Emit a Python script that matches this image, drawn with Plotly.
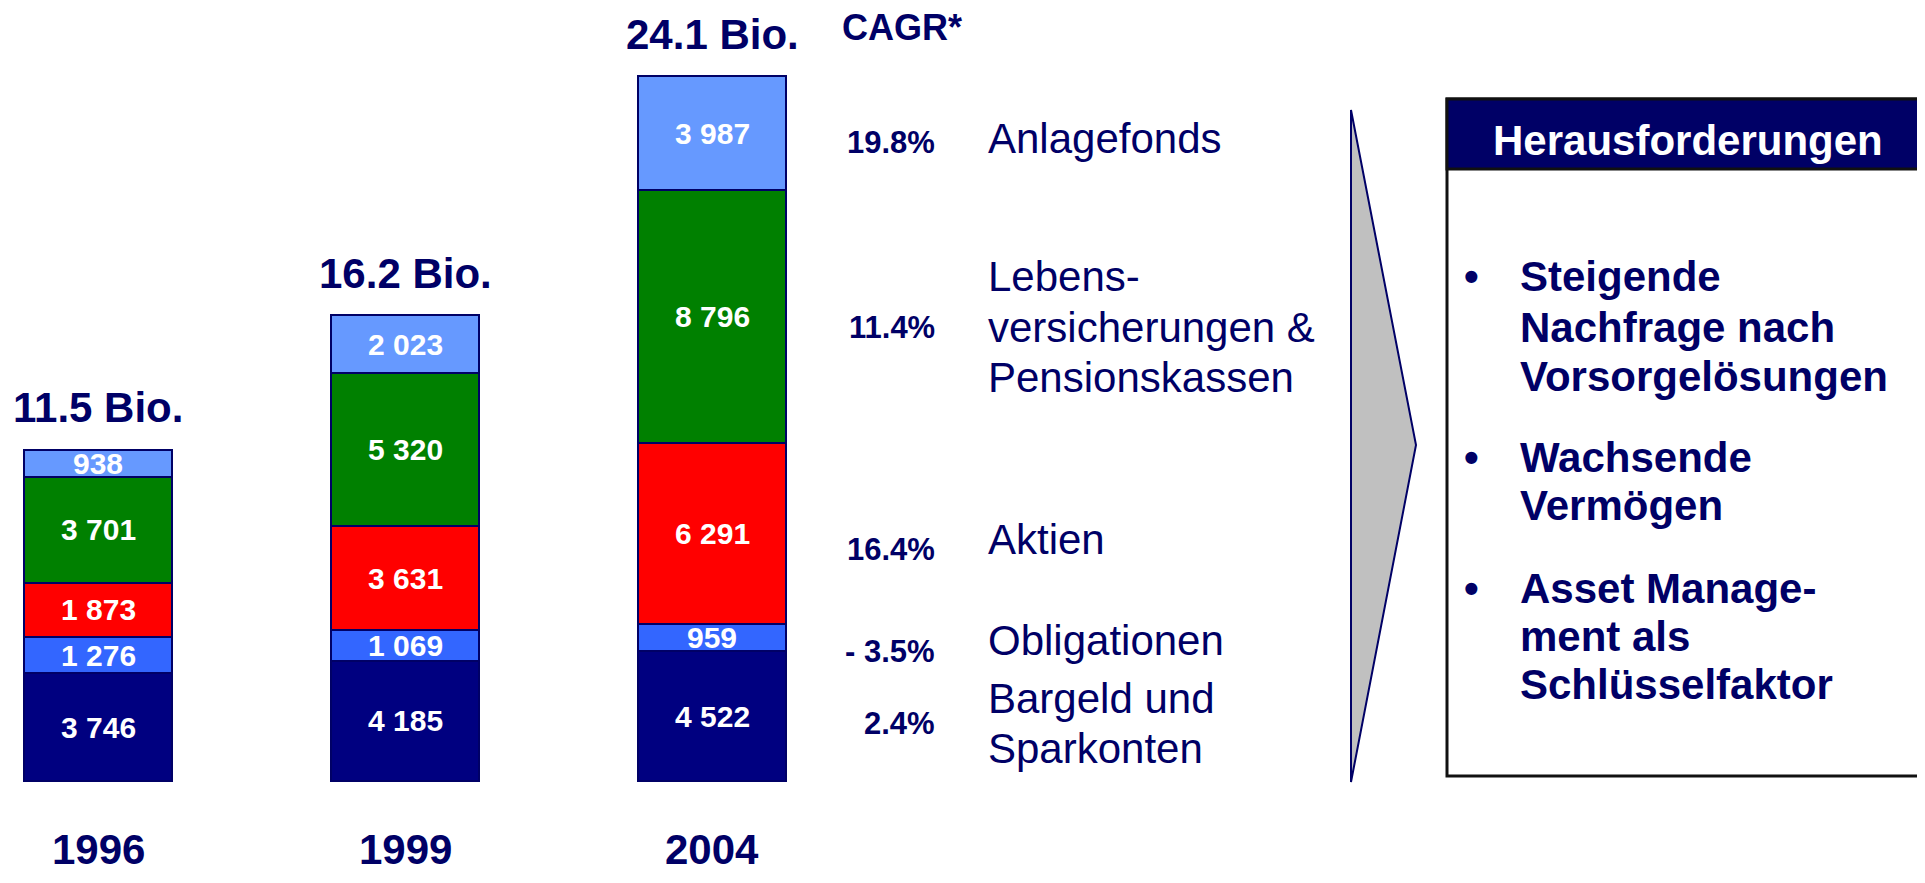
import plotly.graph_objects as go

# ---------------- data ----------------
years = ["1996", "1999", "2004"]
bargeld = [3746, 4185, 4522]
obligationen = [1276, 1069, 959]
aktien = [1873, 3631, 6291]
lebensvers = [3701, 5320, 8796]
anlagefonds = [938, 2023, 3987]
total_labels = ["11.5 Bio.", "16.2 Bio.", "24.1 Bio."]

series_names = ["Bargeld und Sparkonten", "Obligationen", "Aktien",
                "Lebensversicherungen & Pensionskassen", "Anlagefonds"]
series_values = [bargeld, obligationen, aktien, lebensvers, anlagefonds]
series_colors = ["#000080", "#3366FF", "#FF0000", "#008000", "#6699FF"]

cagr_values = ["2.4%", "- 3.5%", "16.4%", "11.4%", "19.8%"]
category_lines = [["Bargeld und", "Sparkonten"], ["Obligationen"], ["Aktien"],
                  ["Lebens-", "versicherungen &", "Pensionskassen"], ["Anlagefonds"]]

box_title = "Herausforderungen"
bullets = [["Steigende", "Nachfrage nach", "Vorsorgelösungen"],
           ["Wachsende", "Vermögen"],
           ["Asset Manage-", "ment als", "Schlüsselfaktor"]]

# ---------------- layout helpers ----------------
OFF = 8                 # default body margin of the html page
FW, FH = 1925 - OFF, 883 - 2 * OFF
NAVY = "#000066"
FONT = "Arial, Liberation Sans, sans-serif"


def px(x):
    """page pixel x -> paper fraction"""
    return (x - OFF) / FW


def py(y):
    """page pixel y -> paper fraction"""
    return 1 - (y - OFF) / FH


x_pos = list(range(len(years)))

fig = go.Figure()
for name, vals, col in zip(series_names, series_values, series_colors):
    fig.add_trace(go.Bar(
        x=x_pos, y=vals, name=name, width=0.479,
        marker=dict(color=col, line=dict(color=NAVY, width=2)),
        hoverinfo="skip", showlegend=False,
    ))

annotations = []

# value labels inside segments
cum = [0] * len(years)
for vals in series_values:
    for i, v in enumerate(vals):
        mid = cum[i] + v / 2
        annotations.append(dict(
            x=x_pos[i], y=mid, xref="x", yref="y", showarrow=False,
            text="<b>" + f"{v:,}".replace(",", " ") + "</b>",
            font=dict(family=FONT, size=30, color="white"),
            xanchor="center", yanchor="middle",
        ))
        cum[i] += v

# totals above bars
for i, lab in enumerate(total_labels):
    annotations.append(dict(
        x=x_pos[i], y=cum[i], xref="x", yref="y", showarrow=False,
        text="<b>" + lab + "</b>",
        font=dict(family=FONT, size=42, color=NAVY),
        xanchor="center", yanchor="middle", yshift=42,
    ))

# year labels
for i, yr in enumerate(years):
    annotations.append(dict(
        x=x_pos[i], y=0, xref="x", yref="paper", showarrow=False,
        text="<b>" + yr + "</b>",
        font=dict(family=FONT, size=42, color=NAVY),
        xanchor="center", yanchor="bottom",
    ))

# CAGR header
annotations.append(dict(
    x=px(902), y=py(27), xref="paper", yref="paper", showarrow=False,
    text="<b>CAGR*</b>", font=dict(family=FONT, size=36, color=NAVY),
    xanchor="center", yanchor="middle",
))

# CAGR values
cagr_y = [723, 651, 549, 327, 142]
for val, yy in zip(cagr_values, cagr_y):
    annotations.append(dict(
        x=px(937), y=py(yy), xref="paper", yref="paper", showarrow=False,
        text="<b>" + val + "</b>", font=dict(family=FONT, size=31, color=NAVY),
        xanchor="right", yanchor="middle",
    ))

# category names
cat_y = [[698, 748], [640], [539], [276, 328, 377], [139]]
for lines, ys in zip(category_lines, cat_y):
    for line, yy in zip(lines, ys):
        annotations.append(dict(
            x=px(986), y=py(yy), xref="paper", yref="paper", showarrow=False,
            text=line, font=dict(family=FONT, size=42, color=NAVY),
            xanchor="left", yanchor="middle",
        ))

# box header
annotations.append(dict(
    x=px(1688), y=py(140), xref="paper", yref="paper", showarrow=False,
    text="<b>" + box_title + "</b>", font=dict(family=FONT, size=42, color="white"),
    xanchor="center", yanchor="middle",
))

# bullets
bullet_y = [[277, 328, 376], [457, 505], [588, 636, 684]]
for lines, ys in zip(bullets, bullet_y):
    annotations.append(dict(
        x=px(1471), y=py(ys[0]), xref="paper", yref="paper", showarrow=False,
        text="<b>•</b>", font=dict(family=FONT, size=42, color=NAVY),
        xanchor="center", yanchor="middle",
    ))
    for line, yy in zip(lines, ys):
        annotations.append(dict(
            x=px(1518), y=py(yy), xref="paper", yref="paper", showarrow=False,
            text="<b>" + line + "</b>", font=dict(family=FONT, size=42, color=NAVY),
            xanchor="left", yanchor="middle",
        ))

shapes = [
    # arrow / chevron
    dict(type="path", xref="paper", yref="paper",
         path=f"M {px(1351)} {py(110)} L {px(1416)} {py(445)} L {px(1351)} {py(782)} Z",
         fillcolor="#C0C0C0", line=dict(color=NAVY, width=2), layer="above"),
    # box body
    dict(type="rect", xref="paper", yref="paper",
         x0=px(1447), x1=px(1923), y0=py(776), y1=py(99),
         fillcolor="white", line=dict(color="#111111", width=3), layer="below"),
    # box header
    dict(type="rect", xref="paper", yref="paper",
         x0=px(1447), x1=px(1923), y0=py(169), y1=py(99),
         fillcolor=NAVY, line=dict(color="#111111", width=3), layer="below"),
]

y_scale = 705 / 24555  # px per unit
base_x = 98 - OFF      # figure pixel of first bar centre
base_y = 781 - OFF     # figure pixel of zero line
fig.update_layout(
    width=FW, height=FH,
    margin=dict(l=0, r=0, t=0, b=0),
    paper_bgcolor="white", plot_bgcolor="rgba(0,0,0,0)",
    barmode="stack",
    xaxis=dict(range=[-base_x / 307, (FW - base_x) / 307], visible=False, fixedrange=True),
    yaxis=dict(range=[-(FH - base_y) / y_scale, base_y / y_scale], visible=False, fixedrange=True),
    annotations=annotations, shapes=shapes,
    showlegend=False,
)

fig.write_html("out.html", config={"displayModeBar": False})
